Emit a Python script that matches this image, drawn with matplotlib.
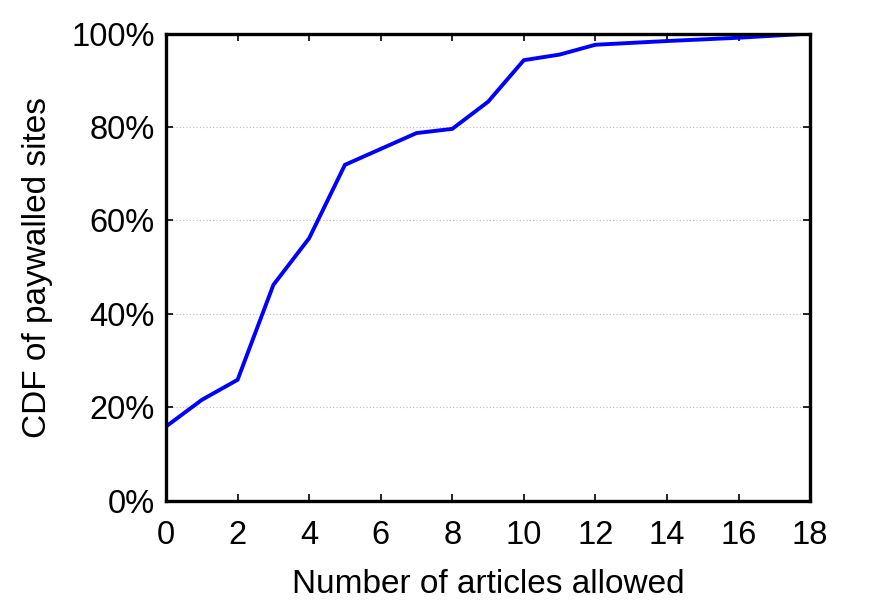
import matplotlib
matplotlib.use('Agg')
import matplotlib.pyplot as plt
from matplotlib.ticker import FuncFormatter

articles = [0, 1, 2, 3, 4, 5, 6, 7, 8, 9, 10, 11, 12, 14, 16, 18]
cdf = [15.9, 21.6, 25.9, 46.2, 56.2, 71.9, 75.3, 78.7, 79.6, 85.4,
       94.3, 95.5, 97.6, 98.4, 99.1, 100.0]

x_ticks = list(range(0, 19, 2))
y_ticks = [0, 20, 40, 60, 80, 100]

plt.rcParams['font.family'] = ['Liberation Sans', 'DejaVu Sans']

fig = plt.figure(figsize=(8.72, 6.10), dpi=100)
ax = fig.add_axes([0.1904, 0.179, 0.7386, 0.766])

ax.plot(articles, cdf, color='#0000ff', linewidth=2.8, solid_joinstyle='miter')

ax.set_xlim(0, 18)
ax.set_ylim(0, 100)
ax.set_xticks(x_ticks)
ax.set_yticks(y_ticks)
ax.yaxis.set_major_formatter(FuncFormatter(lambda v, p: '%d%%' % v))

# dotted grid only between the frame edges
for g in y_ticks[1:-1]:
    ax.axhline(g, color='#bbbbbb', linestyle=(0, (1, 2)), linewidth=0.8, zorder=0)

for s in ax.spines.values():
    s.set_linewidth(2.4)

ax.tick_params(direction='in', length=5, width=1.2, top=True, right=True,
               labelsize=23.5)
ax.tick_params(axis='x', pad=14)
ax.tick_params(axis='y', pad=8)

ax.set_xlabel('Number of articles allowed', fontsize=24, labelpad=13)
ax.set_ylabel('CDF of paywalled sites', fontsize=24, labelpad=13)

plt.savefig('out.png', dpi=100)
plt.clf()
